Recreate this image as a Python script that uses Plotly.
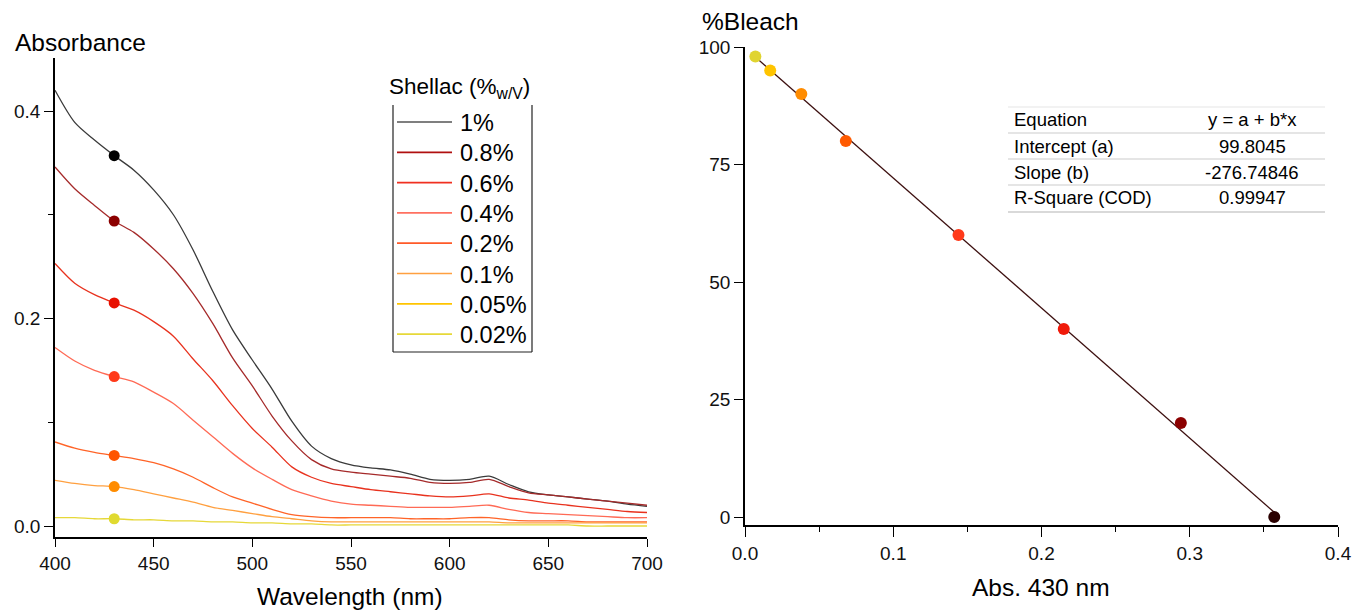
import plotly.graph_objects as go

# ---------------- data ----------------
wavelength = list(range(400, 701, 10))

labels = ["1%", "0.8%", "0.6%", "0.4%", "0.2%", "0.1%", "0.05%", "0.02%"]

spec_1 = [0.420, 0.389, 0.372, 0.357, 0.343, 0.324, 0.300, 0.266, 0.226, 0.189, 0.160,
          0.132, 0.101, 0.077, 0.065, 0.059, 0.056, 0.054, 0.050, 0.045, 0.044, 0.045,
          0.048, 0.040, 0.033, 0.030, 0.028, 0.026, 0.024, 0.021, 0.019]
spec_08 = [0.346, 0.325, 0.309, 0.294, 0.283, 0.267, 0.248, 0.224, 0.195, 0.162, 0.135,
           0.106, 0.082, 0.064, 0.055, 0.052, 0.050, 0.048, 0.046, 0.042, 0.041, 0.042,
           0.045, 0.038, 0.032, 0.030, 0.028, 0.026, 0.024, 0.022, 0.020]
spec_06 = [0.253, 0.234, 0.223, 0.215, 0.208, 0.197, 0.183, 0.161, 0.140, 0.116, 0.094,
           0.076, 0.057, 0.047, 0.041, 0.038, 0.035, 0.033, 0.031, 0.029, 0.028, 0.029,
           0.031, 0.027, 0.025, 0.022, 0.020, 0.018, 0.016, 0.014, 0.013]
spec_04 = [0.172, 0.159, 0.150, 0.144, 0.139, 0.129, 0.118, 0.102, 0.086, 0.070, 0.056,
           0.045, 0.035, 0.029, 0.024, 0.021, 0.020, 0.019, 0.018, 0.018, 0.018, 0.019,
           0.020, 0.016, 0.013, 0.012, 0.011, 0.010, 0.009, 0.008, 0.008]
spec_02 = [0.081, 0.075, 0.071, 0.068, 0.065, 0.061, 0.055, 0.047, 0.037, 0.028, 0.022,
           0.016, 0.011, 0.009, 0.008, 0.008, 0.008, 0.008, 0.007, 0.007, 0.007, 0.008,
           0.008, 0.006, 0.005, 0.005, 0.005, 0.004, 0.004, 0.004, 0.004]
spec_01 = [0.044, 0.041, 0.039, 0.038, 0.035, 0.031, 0.027, 0.023, 0.018, 0.015, 0.012,
           0.009, 0.007, 0.005, 0.004, 0.004, 0.004, 0.004, 0.004, 0.004, 0.004, 0.004,
           0.004, 0.003, 0.003, 0.003, 0.003, 0.003, 0.003, 0.003, 0.003]
spec_002 = [0.008, 0.008, 0.007, 0.007, 0.006, 0.006, 0.005, 0.005, 0.004, 0.004, 0.003,
            0.003, 0.002, 0.002, 0.001, 0.001, 0.001, 0.001, 0.001, 0.001, 0.001, 0.001,
            0.001, 0.001, 0.001, 0.001, 0.001, 0.000, 0.000, 0.000, 0.000]

# absorbance at 430 nm and bleaching for each concentration (same order as labels)
abs_430 = [0.357, 0.294, 0.215, 0.144, 0.068, 0.038, 0.017, 0.007]
bleach = [0, 20, 40, 60, 80, 90, 95, 98]

fit_rows = ["Equation", "Intercept (a)", "Slope (b)", "R-Square (COD)"]
fit_vals = ["y = a + b*x", "99.8045", "-276.74846", "0.99947"]
intercept = 99.8045
slope = -276.74846

# ---------------- styles ----------------
spectra = {"1%": spec_1, "0.8%": spec_08, "0.6%": spec_06, "0.4%": spec_04,
           "0.2%": spec_02, "0.1%": spec_01, "0.02%": spec_002}
line_col = {"1%": "#3a3a3a", "0.8%": "#a52a2a", "0.6%": "#e8321e", "0.4%": "#ff6a55",
            "0.2%": "#ff6428", "0.1%": "#ffa040", "0.05%": "#ffc400", "0.02%": "#e6d838"}
legend_col = {"1%": "#555555", "0.8%": "#b01010", "0.6%": "#f03020", "0.4%": "#ff7060",
              "0.2%": "#ff5a28", "0.1%": "#ffa040", "0.05%": "#ffc400", "0.02%": "#e6d838"}
mark_col = {"1%": "#000000", "0.8%": "#8b0000", "0.6%": "#e81000", "0.4%": "#ff3a1a",
            "0.2%": "#ff5500", "0.1%": "#ff8c00", "0.05%": "#ffc400", "0.02%": "#e0da30"}
right_col = {"1%": "#2a0000", "0.8%": "#8b0000", "0.6%": "#f01a0a", "0.4%": "#ff3a1a",
             "0.2%": "#ff5a00", "0.1%": "#ff8c00", "0.05%": "#ffc400", "0.02%": "#e0d430"}

W, H = 1353, 611
FONT = "Arial, Liberation Sans, sans-serif"

def px_x(p):
    return p / W

def px_y(p):
    return 1 - p / H

fig = go.Figure()

# left: spectra
for lab in labels:
    if lab not in spectra:
        continue
    fig.add_trace(go.Scatter(
        x=wavelength, y=spectra[lab], mode="lines",
        line=dict(color=line_col[lab], width=1.3, shape="spline", smoothing=0.8),
        xaxis="x", yaxis="y", showlegend=False, hoverinfo="skip"))
for lab, a in zip(labels, abs_430):
    if lab not in spectra:
        continue
    fig.add_trace(go.Scatter(
        x=[430], y=[a], mode="markers",
        marker=dict(color=mark_col[lab], size=11),
        xaxis="x", yaxis="y", showlegend=False))

# right: fit line + points
xs_fit = [min(abs_430), max(abs_430)]
fig.add_trace(go.Scatter(
    x=xs_fit, y=[intercept + slope * v for v in xs_fit], mode="lines",
    line=dict(color="#3c0f0f", width=1.3), xaxis="x2", yaxis="y2", showlegend=False))
for lab, a, b in zip(labels, abs_430, bleach):
    fig.add_trace(go.Scatter(
        x=[a], y=[b], mode="markers",
        marker=dict(color=right_col[lab], size=12),
        xaxis="x2", yaxis="y2", showlegend=False))

axis_common = dict(showline=True, linecolor="black", linewidth=1.5, showgrid=False,
                   zeroline=False, ticks="outside", tickcolor="black", tickwidth=1.3,
                   automargin=False,
                   tickfont=dict(family=FONT, size=19, color="#111"))

fig.update_layout(
    width=W, height=H, margin=dict(l=0, r=0, t=0, b=0, autoexpand=False),
    paper_bgcolor="white", plot_bgcolor="white", showlegend=False,
    xaxis=dict(domain=[px_x(55), px_x(647)], range=[400, 700], dtick=50, ticklen=8,
               anchor="y", **axis_common),
    yaxis=dict(domain=[px_y(537), px_y(58)], range=[-0.0106, 0.4511], dtick=0.2,
               tickformat=".1f", ticklen=9, anchor="x",
               minor=dict(ticks="outside", dtick=0.1, ticklen=5, tickcolor="black", tickwidth=1.3),
               **axis_common),
    xaxis2=dict(domain=[px_x(745), px_x(1338)], range=[0, 0.4], dtick=0.1, tickformat=".1f",
                ticklen=10, anchor="y2",
                minor=dict(ticks="outside", dtick=0.05, ticklen=5, tickcolor="black", tickwidth=1.3),
                **axis_common),
    yaxis2=dict(domain=[px_y(525), px_y(47)], range=[-1.7, 100], dtick=25, ticklen=9,
                anchor="x2", **axis_common),
)

anns = []
shapes = []

# axis titles
anns.append(dict(text="Absorbance", x=px_x(13), y=px_y(43), xanchor="left", yanchor="middle"))
anns.append(dict(text="Wavelength (nm)", x=px_x(350), y=px_y(596), xanchor="center", yanchor="middle"))
anns.append(dict(text="%Bleach", x=px_x(700), y=px_y(22), xanchor="left", yanchor="middle"))
anns.append(dict(text="Abs. 430 nm", x=px_x(1041), y=px_y(587), xanchor="center", yanchor="middle"))
for a in anns:
    a.update(xref="paper", yref="paper", showarrow=False,
             font=dict(family=FONT, size=24.5, color="black"))

# legend (manual)
leg_left, leg_right, leg_top, leg_bottom = 393, 532, 105, 352
shapes.append(dict(type="line", xref="paper", yref="paper", x0=px_x(leg_left), x1=px_x(leg_left),
                   y0=px_y(leg_top), y1=px_y(leg_bottom), line=dict(color="#222", width=1.2)))
shapes.append(dict(type="line", xref="paper", yref="paper", x0=px_x(leg_right), x1=px_x(leg_right),
                   y0=px_y(leg_top), y1=px_y(leg_bottom), line=dict(color="#222", width=1.2)))
shapes.append(dict(type="line", xref="paper", yref="paper", x0=px_x(leg_left), x1=px_x(leg_right),
                   y0=px_y(leg_bottom), y1=px_y(leg_bottom), line=dict(color="#222", width=1.2)))
anns.append(dict(text="Shellac (%<sub>w/V</sub>)", x=px_x(387), y=px_y(88), xref="paper", yref="paper",
                 xanchor="left", yanchor="middle", showarrow=False,
                 font=dict(family=FONT, size=22.5, color="black")))
for i, lab in enumerate(labels):
    yc = 122 + i * 30.3
    shapes.append(dict(type="line", xref="paper", yref="paper", x0=px_x(397), x1=px_x(452),
                       y0=px_y(yc), y1=px_y(yc), line=dict(color=legend_col[lab], width=1.7)))
    anns.append(dict(text=lab, x=px_x(458), y=px_y(yc + 1), xref="paper", yref="paper",
                     xanchor="left", yanchor="middle", showarrow=False,
                     font=dict(family=FONT, size=23.5, color="black")))

# fit table
tab_left, tab_right = 1008, 1325
row_y = [120, 146, 172, 198]
line_y = [107, 133, 159, 185, 212]
line_c = ["#eeeeee", "#dddddd", "#dddddd", "#dddddd", "#cccccc"]
for ly, lc in zip(line_y, line_c):
    shapes.append(dict(type="line", xref="paper", yref="paper", x0=px_x(tab_left), x1=px_x(tab_right),
                       y0=px_y(ly), y1=px_y(ly), line=dict(color=lc, width=1.5)))
for ry, name, val in zip(row_y, fit_rows, fit_vals):
    anns.append(dict(text=name, x=px_x(1012), y=px_y(ry), xref="paper", yref="paper",
                     xanchor="left", yanchor="middle", showarrow=False,
                     font=dict(family=FONT, size=18.5, color="black")))
    anns.append(dict(text=val, x=px_x(1252), y=px_y(ry), xref="paper", yref="paper",
                     xanchor="center", yanchor="middle", showarrow=False,
                     font=dict(family=FONT, size=18.5, color="black")))

fig.update_layout(annotations=anns, shapes=shapes)
fig.write_html("out.html")
